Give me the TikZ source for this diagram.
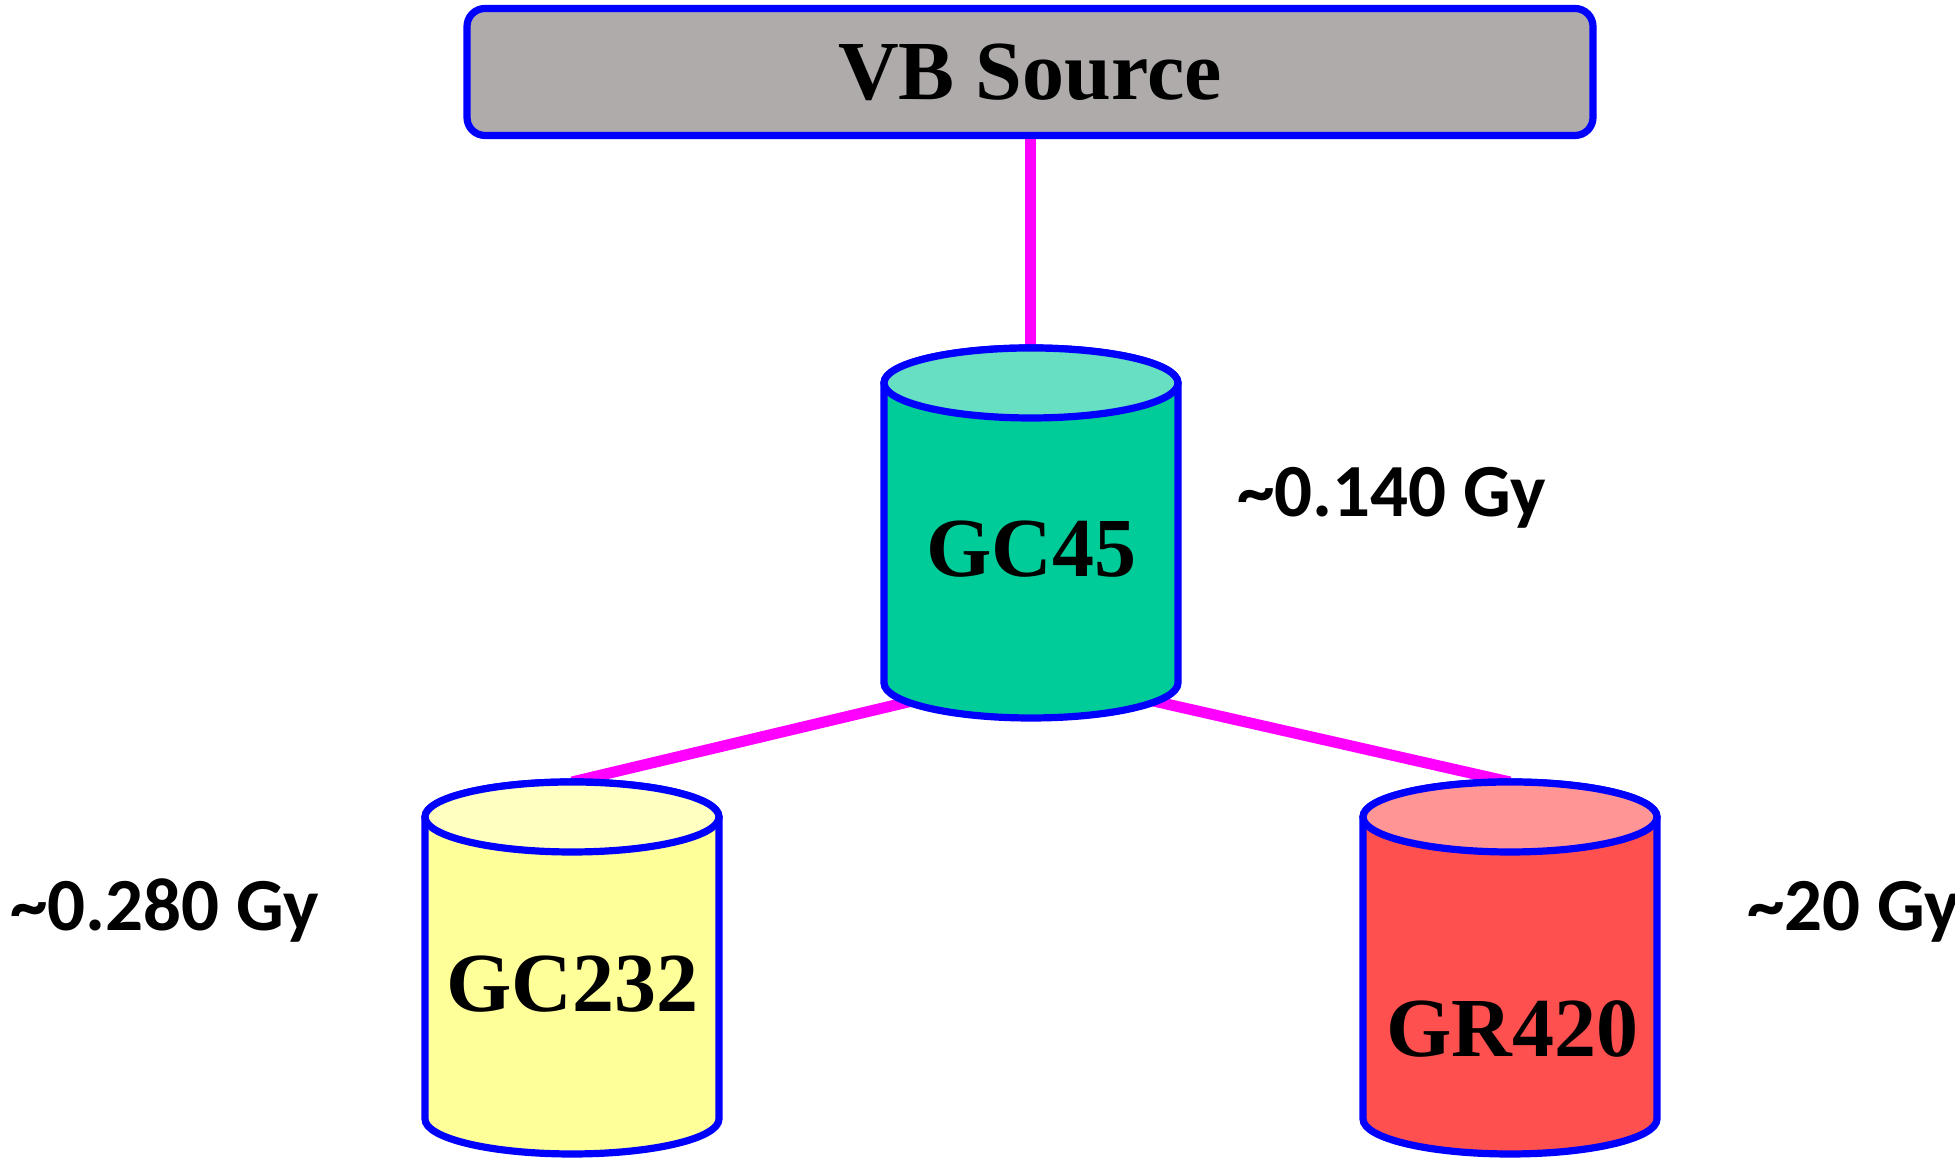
\documentclass[tikz,border=0pt]{standalone}
\usepackage{fontspec}
\setmainfont{Liberation Serif}
\newfontfamily\dosefont{Carlito}
\definecolor{edgeblue}{RGB}{0,0,255}
\definecolor{linkmag}{RGB}{255,0,255}
\definecolor{srcgray}{RGB}{175,171,171}
\definecolor{tealbody}{RGB}{0,204,153}
\definecolor{tealtop}{RGB}{102,223,194}
\definecolor{yelbody}{RGB}{255,255,153}
\definecolor{yeltop}{RGB}{255,255,194}
\definecolor{redbody}{RGB}{255,80,80}
\definecolor{redtop}{RGB}{255,149,149}
% #1 centre x, #2 top ellipse y, #3 bottom ellipse y, #4 body, #5 lid
\newcommand\drum[5]{%
  \draw[outline, fill=#4] (#1-147,#2) -- (#1-147,#3)
    arc[start angle=180, end angle=360, x radius=73.5pt, y radius=17.5pt]
    -- (#1+147,#2)
    arc[start angle=0, end angle=180, x radius=73.5pt, y radius=17.5pt] -- cycle;
  \draw[outline, fill=#5] (#1,#2) ellipse[x radius=73.5pt, y radius=17.5pt];
}
\begin{document}
\begin{tikzpicture}[x=0.5pt, y=0.5pt,
  outline/.style={draw=edgeblue, line width=3.6pt},
  link/.style={draw=linkmag, line width=5.5pt},
  title/.style={font=\fontsize{42}{46}\selectfont\bfseries, text=black},
  dose/.style={font=\dosefont\fontsize{37.5}{41}\selectfont\bfseries, anchor=base west, inner sep=0pt}]
\useasboundingbox (0,0) rectangle (1955,1159);

% source box
\node[outline, fill=srcgray, rounded corners=9pt, minimum width=563pt,
      minimum height=63.5pt, inner sep=0pt, title] (vb) at (1030,1087) {VB Source};

% connector end points
\coordinate (gc45top) at (1030,811);
\coordinate (hub) at (1030,486);
\coordinate (gc232top) at (572,377);
\coordinate (gr420top) at (1510,377);

\draw[link] (vb.south) -- (gc45top);
\draw[link] (hub) -- (gc232top);
\draw[link] (hub) -- (gr420top);

% drums
\drum{1031}{776}{476}{tealbody}{tealtop}
\drum{572}{342}{40}{yelbody}{yeltop}
\drum{1510}{342}{40}{redbody}{redtop}

\node[title, anchor=base, inner sep=0pt] (gc45) at (1031,582) {GC45};
\node[title, anchor=base, inner sep=0pt] (gc232) at (572,147) {GC232};
\node[title, anchor=base, inner sep=0pt] (gr420) at (1512,102) {GR420};

% dose labels
\node[dose] (d45) at (1237,642) {\textasciitilde0.140 Gy};
\node[dose] (d232) at (10,228) {\textasciitilde0.280 Gy};
\node[dose] (d420) at (1747,228) {\textasciitilde20 Gy};
\end{tikzpicture}
\end{document}
